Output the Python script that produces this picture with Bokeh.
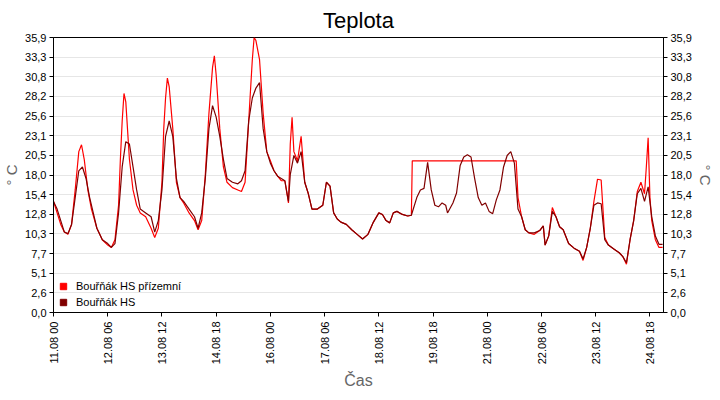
from bokeh.plotting import figure
from bokeh.models import FixedTicker, LinearAxis, Range1d, Legend, LegendItem
from bokeh.embed import file_html
from bokeh.resources import INLINE
import math

# hours since 11.08 00:00
hs_h = [0,2,4,6,8,10,12,14,16,18,20,22,24,27,30,32,34,36,38,40,42,44,46,48,51,54,56,58,60,62,64,66,68,70,72,75,78,80,82,84,86,88,90,92,94,96,99,102,104,106,108,110,112,114,116,118,120,122,124,126,128,130,131,133,135,137,139,141,143,146,149,151,153,155,157,159,162,165,168,171,174,177,180,182,184,186,188,190,193,196,198,201,203,205,207,209,211,213,215,217,218,221,223,225,227,229,231,233,235,237,239,241,243,245,247,249,251,253,255,257,259,261,263,266,269,271,272,274,276,278,280,282,285,288,291,293,295,297,299,301,303,305,307,310,313,315,317,319,321,323,325,327,329,331,333,335,337]
hs_t = [14.5,13.5,12,10.5,10.3,11.5,15,18.5,19,17.5,15,13,11,9.5,9,8.5,9,13,19,22.3,22,19,16,13.5,13,12.5,10.5,12,16,23,25,23,17.5,15,14.5,13.5,12.5,11,13,17.5,24,27,25.5,23,20,17.5,17,16.8,17.2,18.5,25,28,29.3,30,24,21,19.5,18.5,17.8,17.5,17.2,14.5,18,20.5,19.5,21,17,15.5,13.5,13.5,14,17,16.5,13,12.2,11.8,11.5,10.8,10.2,9.6,10.2,11.8,13,12.8,12,11.7,13,13.2,12.8,12.6,12.7,15,16,16.2,19.6,16,14,13.8,14.3,14,13,14.3,15.6,19.2,20.3,20.6,20.3,17.5,15,14,14.3,13.2,12.9,14.7,16,19,20.5,21,19.5,13.5,12.5,10.8,10.4,10.4,10.7,11.3,8.8,10,13.2,12.5,11.2,10.8,9,8.4,8,7,8.5,11,14,14.3,14.2,9.5,8.8,8.3,7.8,7.3,6.5,9.5,12,15.5,16.2,14.5,16.4,12.5,10,8.9,8.9]

gr_h = [0,2,4,6,8,10,12,14,15.5,17,19,21,24,27,30,32,34,36,37,38,39,40,42,44,46,48,51,54,56,58,60,61,62,63,64,66,68,70,72,75,78,80,82,84,86,87,88,89,90,92,94,96,99,102,104,106,108,110,111,112,114,116,118,120,122,124,126,128,130,131,132,133,135,137,139,141,143,146,149,151,153,155,157,159,162,165,168,171,174,177,180,182,184,186,188,190,193,196,198,198.5,256,257,259,261,263,266,269,271,272,274,276,278,280,282,285,288,291,293,295,297,299,301,303,305,307,310,313,315,317,319,321,323,325,327,328,329,330,331,333,335,337]
gr_t = [14.5,13,11.5,10.5,10.2,11.5,16,21,21.9,20,16,13.5,11,9.5,8.8,8.5,9.5,14,20,25,28.6,27.5,20,16,14,13,12.5,11,9.8,11,17,24,28,30.6,29.5,24,17,15,14.3,13,12,10.8,12,18,26,29,32,33.5,31,24,19,17,16.3,16,15.8,17,25,33,35.9,35.5,33,26,21,19.8,18.5,17.8,17.2,17.2,14.3,22,25.5,21,19.8,23,17,15.5,13.5,13.5,14,17,16.5,13,12.2,11.8,11.5,10.8,10.2,9.6,10.2,11.8,13,12.8,12,11.7,13,13.2,12.8,12.6,12.7,19.8,19.8,15,12.5,10.8,10.4,10.2,10.7,11.3,8.8,10,13.7,12.5,11.2,10.8,9,8.4,8,6.8,8.5,11,14.5,17.4,17.3,9.8,8.8,8.3,7.8,7.3,6.3,9.5,12,15.8,17,15.5,19,22.8,15,12,9.5,8.5,8.5]

x_ticks = [0,30,60,90,120,150,180,210,240,270,300,330]
x_labels = ["11.08 00","12.08 06","13.08 12","14.08 18","16.08 00","17.08 06","18.08 12","19.08 18","21.08 00","22.08 06","23.08 12","24.08 18"]
y_ticks = [i*35.9/14 for i in range(15)]
y_labels = ["0,0","2,6","5,1","7,7","10,3","12,8","15,4","18,0","20,5","23,1","25,6","28,2","30,8","33,3","35,9"]

p = figure(frame_width=610, frame_height=275, min_border_left=47, min_border_right=46,
           min_border_top=35, min_border_bottom=74, output_backend="svg", toolbar_location=None,
           x_range=Range1d(0, 337.5), y_range=Range1d(0, 35.9), title="Teplota")
p.title.align = "center"
p.title.text_font = "Liberation Sans"
p.title.text_font_size = "22px"
p.title.text_font_style = "normal"
p.title.text_color = "black"
p.outline_line_color = "black"
p.xgrid.visible = False
p.ygrid.grid_line_color = "#e6e6e6"
p.ygrid.ticker = FixedTicker(ticks=y_ticks)

r1 = p.line(gr_h, gr_t, line_color="#ff0000", line_width=1.2)
r2 = p.line(hs_h, hs_t, line_color="#800000", line_width=1.2)

def style_y(ax):
    ax.ticker = FixedTicker(ticks=y_ticks)
    ax.major_label_overrides = {t: l for t, l in zip(y_ticks, y_labels)}
    ax.axis_label = "° C"
    ax.axis_label_text_color = "#666666"
    ax.axis_label_text_font_style = "normal"
    ax.axis_label_text_font_size = "15px"
    ax.axis_label_standoff = 2
    ax.major_label_standoff = 3
    ax.major_label_text_font_size = "11px"
    ax.major_label_text_font = "Liberation Sans"
    ax.major_label_text_color = "black"
    ax.minor_tick_line_color = None
    ax.major_tick_out = 4
    ax.major_tick_in = 0

style_y(p.yaxis[0])
ra = LinearAxis()
style_y(ra)
p.add_layout(ra, "right")

xa = p.xaxis[0]
xa.ticker = FixedTicker(ticks=x_ticks)
xa.major_label_overrides = {t: l for t, l in zip(x_ticks, x_labels)}
xa.major_label_orientation = math.pi / 2
xa.major_label_text_font_size = "11px"
xa.major_label_text_font = "Liberation Sans"
xa.major_label_text_color = "black"
xa.axis_label = "Čas"
xa.axis_label_text_color = "#666666"
xa.axis_label_text_font_style = "normal"
xa.axis_label_text_font_size = "16px"
xa.minor_tick_line_color = None
xa.major_tick_out = 4
xa.major_tick_in = 0

s1 = p.scatter([float("nan")], [float("nan")], marker="square", size=15, color="#ff0000")
s2 = p.scatter([float("nan")], [float("nan")], marker="square", size=15, color="#800000")
leg = Legend(items=[LegendItem(label="Bouřňák HS přízemní", renderers=[s1]),
                    LegendItem(label="Bouřňák HS", renderers=[s2])],
             location="bottom_left", background_fill_alpha=0, border_line_color=None,
             label_text_font_size="11px", label_text_font="Liberation Sans",
             label_text_color="black",
             spacing=0, padding=2, margin=2, glyph_width=16, glyph_height=16, label_height=14)
p.add_layout(leg)

open("out.html", "w").write(file_html(p, INLINE))
